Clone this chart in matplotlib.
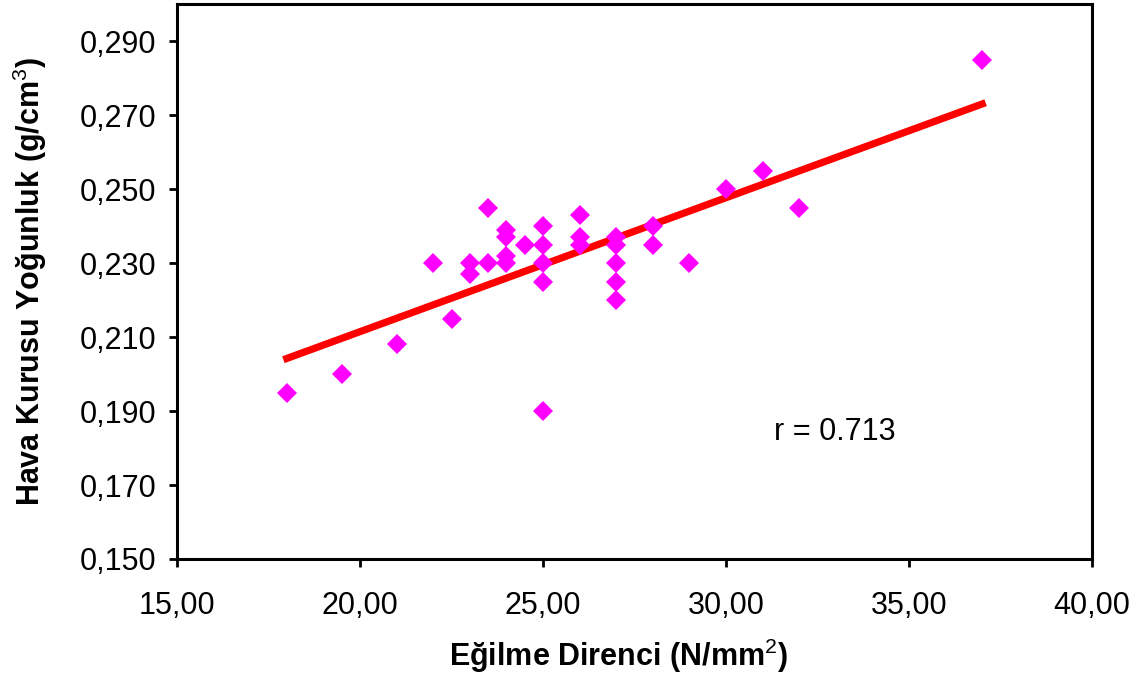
import numpy as np
import matplotlib
matplotlib.use("Agg")
import matplotlib.pyplot as plt

plt.rcParams['font.family'] = ['Liberation Sans', 'DejaVu Sans']
plt.rcParams['mathtext.fontset'] = 'custom'
plt.rcParams['mathtext.rm'] = 'Liberation Sans'

# Egilme direnci (N/mm2) ve hava kurusu yogunluk (g/cm3)
egilme = [18, 19.5, 21, 22, 22.5, 23, 23, 23.5, 23.5, 24, 24, 24, 24, 24.5,
          25, 25, 25, 25, 25, 26, 26, 26, 27, 27, 27, 27, 27, 28, 28, 29,
          30, 31, 32, 37]
yogunluk = [0.195, 0.200, 0.208, 0.230, 0.215, 0.230, 0.227, 0.245, 0.230,
            0.239, 0.237, 0.232, 0.230, 0.235,
            0.240, 0.235, 0.230, 0.225, 0.190, 0.243, 0.237, 0.235,
            0.237, 0.235, 0.230, 0.225, 0.220, 0.240, 0.235, 0.230,
            0.250, 0.255, 0.245, 0.285]

x = np.array(egilme)
y = np.array(yogunluk)
egim, kesim = np.polyfit(x, y, 1)
xl = np.array([x.min(), x.max()])

fig = plt.figure(figsize=(11.44, 6.77), dpi=100)
ax = fig.add_axes([177/1144, 1-559/677, 915/1144, 555/677])

ax.plot(x, y, 'D', color='#ff00ff', markersize=10, markeredgewidth=0, zorder=3)
ax.plot(xl, egim*xl + kesim, color='#ff0000', linewidth=5.2, zorder=2)

xt = np.arange(15, 41, 5)
yt = np.arange(0.150, 0.291, 0.02)
ax.set_xlim(15, 40)
ax.set_ylim(0.150, 0.300)
ax.set_xticks(xt)
ax.set_yticks(yt)
ax.set_xticklabels([('%.2f' % v).replace('.', ',') for v in xt])
ax.set_yticklabels([('%.3f' % v).replace('.', ',') for v in yt])

for s in ax.spines.values():
    s.set_linewidth(2.2)
ax.tick_params(width=2, length=6, labelsize=22)
ax.tick_params(axis='x', pad=17)
ax.tick_params(axis='y', pad=9)

ax.text(31.3, 0.1843, 'r = 0.713', fontsize=22, va='center', ha='left')

ax.set_xlabel(r'Eğilme Direnci (N/mm$^{2}$)', fontsize=22, fontweight='bold', labelpad=12)
ax.set_ylabel(r'Hava Kurusu Yoğunluk (g/cm$^{3}$)', fontsize=22, fontweight='bold', labelpad=22)
ax.xaxis.set_label_coords(0.483, -0.14)

fig.savefig('out.png', dpi=100)
